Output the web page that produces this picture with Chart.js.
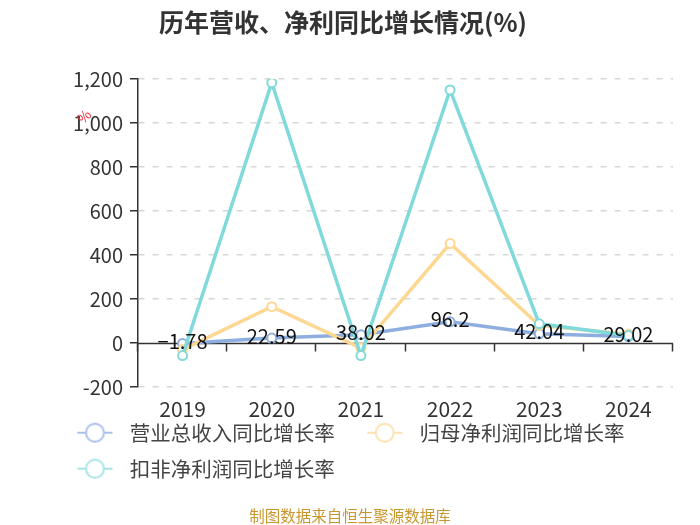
<!DOCTYPE html>
<html>
<head>
<meta charset="utf-8">
<script src="https://cdn.jsdelivr.net/npm/chart.js@4"></script>
<style>
  html, body { margin: 0; padding: 0; background: #fff; }
  #wrap { width: 700px; height: 525px; position: relative; }
</style>
</head>
<body>
<div id="wrap"><canvas id="chart"></canvas></div>
<script>
// growth rates (%)
const years = ['2019', '2020', '2021', '2022', '2023', '2024'];
const revenueGrowth = [-1.78, 22.59, 38.02, 96.2, 42.04, 29.02];
const netProfitGrowth = [-30, 165, -23, 452, 80, 40];
const deductedProfitGrowth = [-57, 1183, -57, 1150, 87, 34];
const yTicks = [-200, 0, 200, 400, 600, 800, 1000, 1200];

const TITLE = '历年营收、净利同比增长情况(%)';
const SOURCE = '制图数据来自恒生聚源数据库';
const FONT = "'Noto Sans CJK SC', 'Noto Sans', sans-serif";
const SERIES = [
    { label: '营业总收入同比增长率', data: revenueGrowth, color: '#8eaee0', legend: '#a9c1ea' },
    { label: '归母净利润同比增长率', data: netProfitGrowth, color: '#fed892', legend: '#fde2b0' },
    { label: '扣非净利润同比增长率', data: deductedProfitGrowth, color: '#80d9da', legend: '#a6e5e6' },
];

// legend symbol: line with a hollow circle, with a blank lead-in on the left
function legendIcon(color) {
    const c = document.createElement('canvas');
    c.width = 59; c.height = 22;
    const g = c.getContext('2d');
    g.strokeStyle = color;
    g.lineWidth = 2;
    g.beginPath(); g.moveTo(17, 11); g.lineTo(52, 11); g.stroke();
    g.fillStyle = '#fff';
    g.beginPath(); g.arc(34.5, 11, 9, 0, Math.PI * 2); g.fill(); g.stroke();
    return c;
}

const extras = {
    id: 'extras',
    // zero line with category boundary ticks, year labels under the plot
    beforeDatasetsDraw(chart) {
        const { ctx, scales: { x, y } } = chart;
        const zeroY = Math.round(y.getPixelForValue(0)) + 0.5;
        ctx.save();
        ctx.strokeStyle = '#333';
        ctx.lineWidth = 1.5;
        ctx.beginPath(); ctx.moveTo(x.left, zeroY); ctx.lineTo(x.right, zeroY); ctx.stroke();
        for (let i = 0; i <= years.length; i++) {
            const px = Math.round(x.left + (x.right - x.left) * i / years.length) - 0.5;
            ctx.beginPath(); ctx.moveTo(px, zeroY); ctx.lineTo(px, zeroY + 8); ctx.stroke();
        }
        // the axis box is kept short so the legend can sit close; labels hang below it
        ctx.fillStyle = '#333';
        ctx.font = '21px ' + FONT;
        ctx.textAlign = 'center';
        ctx.textBaseline = 'middle';
        years.forEach((yr, i) => ctx.fillText(yr, x.getPixelForTick(i), x.top + 22));
        ctx.restore();
    },
    afterDatasetsDraw(chart) {
        const { ctx, scales: { y } } = chart;
        ctx.save();
        ctx.fillStyle = '#111';
        ctx.font = '20px ' + FONT;
        ctx.textAlign = 'center';
        ctx.textBaseline = 'middle';
        chart.getDatasetMeta(0).data.forEach((pt, i) => {
            ctx.fillText(String(revenueGrowth[i]).replace('-', '\u2212'), pt.x, pt.y - 2);
        });
        // small rotated unit mark by the axis
        ctx.save();
        ctx.translate(y.left + 39, y.getPixelForValue(1030));
        ctx.rotate(-Math.PI / 4);
        ctx.fillStyle = '#e8303a';
        ctx.font = '14px ' + FONT;
        ctx.fillText('%', 0, 0);
        ctx.restore();
        // title and source line
        ctx.fillStyle = '#333';
        ctx.font = 'bold 25px ' + FONT;
        ctx.fillText(TITLE, chart.width / 2 - 7, 22);
        ctx.fillStyle = '#c9972f';
        ctx.font = '15.5px ' + FONT;
        ctx.fillText(SOURCE, chart.width / 2, 516);
        ctx.restore();
    }
};

new Chart(document.getElementById('chart'), {
    type: 'line',
    data: {
        labels: years,
        datasets: SERIES.map((s, i) => ({
            label: s.label,
            data: s.data,
            borderColor: s.color,
            borderWidth: 3.5,
            pointStyle: 'circle',
            pointRadius: 4.5,
            pointBorderWidth: 2,
            pointBackgroundColor: '#fff',
            pointBorderColor: s.color,
            tension: 0,
            order: 3 - i,
        })),
    },
    options: {
        responsive: true,
        maintainAspectRatio: false,
        animation: false,
        devicePixelRatio: 1,
        layout: { padding: { left: 45, right: 27, top: 79, bottom: 36 } },
        plugins: {
            title: { display: false },
            legend: {
                position: 'bottom',
                align: 'start',
                labels: {
                    color: '#444',
                    font: { family: FONT, size: 20.5 },
                    usePointStyle: true,
                    pointStyleWidth: 59,
                    padding: 15.5,
                    generateLabels: () => SERIES.map((s, i) => ({
                        text: s.label,
                        datasetIndex: i,
                        pointStyle: legendIcon(s.legend),
                        fontColor: '#444',
                        lineWidth: 0,
                        strokeStyle: 'transparent',
                        fillStyle: 'transparent',
                    })),
                },
            },
            tooltip: { enabled: false },
        },
        scales: {
            x: {
                offset: true,
                grid: { display: false, drawTicks: false },
                border: { display: false },
                ticks: { display: false },
                afterFit: (axis) => { axis.height = 20; },
            },
            y: {
                min: -200,
                max: 1200,
                afterBuildTicks: (axis) => { axis.ticks = yTicks.map(v => ({ value: v })); },
                afterFit: (axis) => { axis.width = 93; },
                border: { display: true, color: '#333', width: 1.5, dash: [6, 8] },
                grid: {
                    color: (c) => c.tick && c.tick.value === 0 ? 'rgba(0,0,0,0)' : '#d8d8d8',
                    lineWidth: 1.5,
                    tickColor: '#333',
                    tickLength: 8,
                    tickBorderDash: [],
                },
                ticks: {
                    color: '#333',
                    font: { family: FONT, size: 20 },
                    padding: 7,
                    callback: (v) => v.toLocaleString('en-US'),
                },
            },
        },
    },
    plugins: [extras],
});
</script>
</body>
</html>
